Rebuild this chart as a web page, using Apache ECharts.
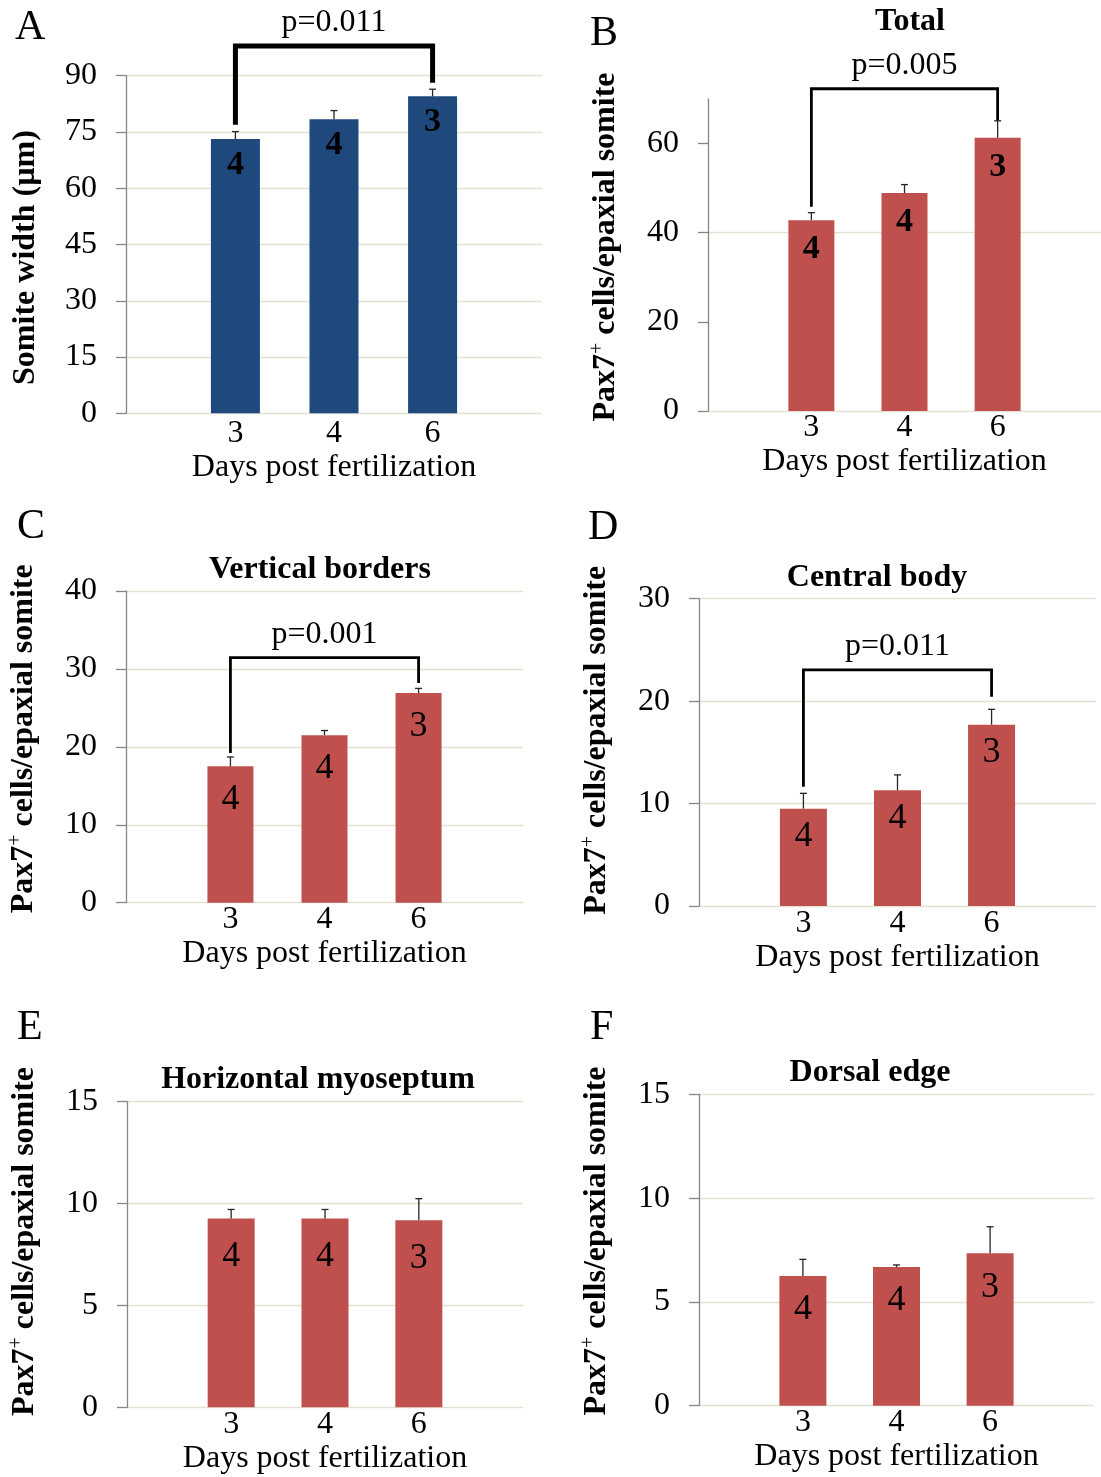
<!DOCTYPE html>
<html>
<head>
<meta charset="utf-8">
<script src="https://cdn.jsdelivr.net/npm/echarts@6/dist/echarts.min.js"></script>
<style>
  html, body { margin: 0; padding: 0; background: #ffffff; }
  #chart { width: 1101px; height: 1477px; }
</style>
</head>
<body>
<div id="chart"></div>
<script>
// Days post fertilization (x categories) and number of embryos per group
const days = ['3', '4', '6'];
const sampleSizes = [4, 4, 3];

// Somite width (µm), mean and upper SE
const somiteWidth = [73.1, 78.4, 84.5];
const somiteWidthSE = [2.0, 2.3, 1.9];

// Pax7+ cells per epaxial somite, by region
const totalCells = [42.8, 48.9, 61.3];
const totalCellsSE = [1.7, 1.9, 3.8];
const verticalBorderCells = [17.5, 21.5, 26.9];
const verticalBorderSE = [1.2, 0.6, 0.6];
const centralBodyCells = [9.5, 11.3, 17.7];
const centralBodySE = [1.5, 1.5, 1.5];
const myoseptumCells = [9.27, 9.27, 9.18];
const myoseptumSE = [0.44, 0.44, 1.06];
const dorsalEdgeCells = [6.25, 6.68, 7.34];
const dorsalEdgeSE = [0.8, 0.1, 1.28];

// Labelled y ticks per panel
const yTicksA = [0, 15, 30, 45, 60, 75, 90];
const yTicksB = [0, 20, 40, 60];
const yTicksC = [0, 10, 20, 30, 40];
const yTicksD = [0, 10, 20, 30];
const yTicksE = [0, 5, 10, 15];
const yTicksF = [0, 5, 10, 15];

// Day 3 vs day 6 comparisons
const pValueA = 'p=0.011';
const pValueB = 'p=0.005';
const pValueC = 'p=0.001';
const pValueD = 'p=0.011';

const SERIF = "'Liberation Serif', 'Times New Roman', serif";
const GRID_COLOR = '#e4e1d3';
const AXIS_COLOR = '#868686';
const BLUE = '#1f497d';
const RED = '#c0504d';

const PAX7_NAME = '{b|Pax7}{sup|+}{b| cells/epaxial somite}';

const panels = [
  { letter: 'A', letterAt: [15, 28], title: null,
    grid: { left: 126, top: 75.7, width: 416, height: 337.6 },
    yMax: 90, yStep: 15, yTicks: yTicksA, yName: 'Somite width (µm)', yNamePad: [0, 26, 0, 0],
    values: somiteWidth, se: somiteWidthSE, color: BLUE, barWidth: 49,
    nBold: true, nSize: 34, nDrop: 9, xLabelMargin: 4, xNameGap: 38,
    sig: { text: pValueA, level: 97.9, footL: 76.9, footR: 88.1, width: 5 } },
  { letter: 'B', letterAt: [590, 34], title: { text: 'Total', at: [910, 22] },
    grid: { left: 708, top: 99, width: 393, height: 312 },
    yMax: 70, yStep: 10, yTicks: yTicksB, yName: PAX7_NAME, yNamePad: [0, 0, 0, 16],
    values: totalCells, se: totalCellsSE, color: RED, barWidth: 46,
    nBold: true, nSize: 34, nDrop: 12, xLabelMargin: 1, xNameGap: 35,
    sig: { text: pValueB, level: 72.3, footL: 45.8, footR: 65.2, width: 2.8 } },
  { letter: 'C', letterAt: [17, 527], title: { text: 'Vertical borders', at: [320, 570] },
    grid: { left: 126, top: 591, width: 397, height: 311.7 },
    yMax: 40, yStep: 10, yTicks: yTicksC, yName: PAX7_NAME, yNamePad: [0, 0, 0, 16],
    values: verticalBorderCells, se: verticalBorderSE, color: RED, barWidth: 46,
    nBold: false, nSize: 36, nDrop: 15, xLabelMargin: 1, xNameGap: 35,
    sig: { text: pValueC, level: 31.45, footL: 19.2, footR: 28.2, width: 2.8 } },
  { letter: 'D', letterAt: [588, 528], title: { text: 'Central body', at: [877, 578] },
    grid: { left: 699, top: 598.7, width: 397, height: 307.3 },
    yMax: 30, yStep: 10, yTicks: yTicksD, yName: PAX7_NAME, yNamePad: [0, 0, 0, 24],
    values: centralBodyCells, se: centralBodySE, color: RED, barWidth: 47,
    nBold: false, nSize: 36, nDrop: 10, xLabelMargin: 2, xNameGap: 36,
    sig: { text: pValueD, level: 23.05, footL: 11.65, footR: 20.44, width: 2.8 } },
  { letter: 'E', letterAt: [17, 1028], title: { text: 'Horizontal myoseptum', at: [318, 1080] },
    grid: { left: 127, top: 1101.7, width: 396, height: 305.6 },
    yMax: 15, yStep: 5, yTicks: yTicksE, yName: PAX7_NAME, yNamePad: [0, 0, 0, 26],
    values: myoseptumCells, se: myoseptumSE, color: RED, barWidth: 47,
    nBold: false, nSize: 36, nDrop: 20, xLabelMargin: 1, xNameGap: 35,
    sig: null },
  { letter: 'F', letterAt: [590, 1028], title: { text: 'Dorsal edge', at: [870, 1073] },
    grid: { left: 699, top: 1094.3, width: 395, height: 311.4 },
    yMax: 15, yStep: 5, yTicks: yTicksF, yName: PAX7_NAME, yNamePad: [0, 0, 0, 18],
    values: dorsalEdgeCells, se: dorsalEdgeSE, color: RED, barWidth: 47,
    nBold: false, nSize: 36, nDrop: 16, xLabelMargin: 1, xNameGap: 35,
    sig: null }
];

const grids = [];
const xAxes = [];
const yAxes = [];
const series = [];
const graphics = [];

panels.forEach((p, i) => {
  grids.push(Object.assign({ containLabel: false }, p.grid));

  // bar slots sit at x = 1, 2, 3 with the plot padded on both sides
  xAxes.push({
    gridIndex: i, type: 'value', min: -0.11, max: 4.11,
    axisLine: { show: false }, axisTick: { show: false }, splitLine: { show: false },
    axisLabel: {
      customValues: [1, 2, 3], formatter: (v) => days[Math.round(v) - 1],
      margin: p.xLabelMargin, color: '#000', fontFamily: SERIF, fontSize: 32
    },
    name: 'Days post fertilization', nameLocation: 'middle', nameGap: p.xNameGap,
    nameTextStyle: { color: '#000', fontFamily: SERIF, fontSize: 32 }
  });

  // gridlines only where a tick is labelled (the B axis runs on to 70)
  const scaleTicks = [];
  for (let v = 0; v < p.yMax; v += p.yStep) scaleTicks.push(v);
  scaleTicks.push(p.yMax);
  const lineColors = scaleTicks.map((v) => (p.yTicks.indexOf(v) >= 0 ? GRID_COLOR : 'rgba(0,0,0,0)'));

  yAxes.push({
    gridIndex: i, type: 'value', min: 0, max: p.yMax, interval: p.yStep,
    axisLine: { show: true, onZero: false, lineStyle: { color: AXIS_COLOR, width: 1.3 } },
    axisTick: { show: true, inside: false, length: 10, customValues: p.yTicks,
      lineStyle: { color: AXIS_COLOR, width: 1.3 } },
    axisLabel: { customValues: p.yTicks, margin: 29, color: '#000', fontFamily: SERIF, fontSize: 32 },
    splitLine: { show: true, lineStyle: { color: lineColors, width: 1.3 } },
    name: p.yName, nameLocation: 'middle', nameRotate: 90, nameGap: 84,
    nameTextStyle: {
      color: '#000', fontFamily: SERIF, fontSize: 32, fontWeight: 'bold', padding: p.yNamePad,
      rich: {
        b: { fontFamily: SERIF, fontSize: 32, fontWeight: 'bold', color: '#000', lineHeight: 36 },
        sup: { fontFamily: SERIF, fontSize: 20, fontWeight: 'normal', color: '#000',
          lineHeight: 22, verticalAlign: 'top' }
      }
    }
  });

  series.push({
    type: 'bar', xAxisIndex: i, yAxisIndex: i, barWidth: p.barWidth,
    itemStyle: { color: p.color },
    data: p.values.map((v, k) => [k + 1, v]),
    label: {
      show: true, position: 'insideTop', distance: p.nDrop,
      formatter: (prm) => String(sampleSizes[prm.dataIndex]),
      color: '#000', fontFamily: SERIF, fontSize: p.nSize,
      fontWeight: p.nBold ? 'bold' : 'normal'
    },
    z: 2
  });

  // upper standard-error bars
  series.push({
    type: 'custom', xAxisIndex: i, yAxisIndex: i, z: 3,
    data: p.values.map((v, k) => [k + 1, v, v + p.se[k]]),
    encode: { x: 0, y: [1, 2] },
    renderItem: (params, api) => {
      const x = api.value(0);
      const lo = api.coord([x, api.value(1)]);
      const hi = api.coord([x, api.value(2)]);
      const st = { stroke: '#262626', lineWidth: 1.3 };
      return {
        type: 'group',
        children: [
          { type: 'line', shape: { x1: lo[0], y1: lo[1], x2: hi[0], y2: hi[1] }, style: st },
          { type: 'line', shape: { x1: hi[0] - 3.5, y1: hi[1], x2: hi[0] + 3.5, y2: hi[1] }, style: st }
        ]
      };
    }
  });

  // significance bracket between day 3 and day 6
  if (p.sig) {
    const s = p.sig;
    series.push({
      type: 'custom', xAxisIndex: i, yAxisIndex: i, z: 4, clip: false,
      data: [[1, 3, s.level, s.footL, s.footR]],
      encode: { x: [0, 1], y: [2, 3, 4] },
      renderItem: (params, api) => {
        const a = api.coord([api.value(0), api.value(3)]);
        const top = api.coord([api.value(0), api.value(2)]);
        const b = api.coord([api.value(1), api.value(4)]);
        const topY = top[1];
        return {
          type: 'group',
          children: [
            { type: 'polyline',
              shape: { points: [[a[0], a[1]], [a[0], topY], [b[0], topY], [b[0], b[1]]] },
              style: { stroke: '#000', lineWidth: s.width, fill: null, lineJoin: 'miter', lineCap: 'butt' } },
            { type: 'text', x: (a[0] + b[0]) / 2, y: topY - 23,
              style: { text: s.text, fill: '#000', fontFamily: SERIF, fontSize: 32,
                align: 'center', verticalAlign: 'middle' } }
          ]
        };
      }
    });
  }

  graphics.push({
    type: 'text', x: p.letterAt[0], y: p.letterAt[1],
    style: { text: p.letter, fill: '#000', fontFamily: SERIF, fontSize: 42, verticalAlign: 'middle' }
  });
  if (p.title) {
    graphics.push({
      type: 'text', x: p.title.at[0], y: p.title.at[1],
      style: { text: p.title.text, fill: '#000', fontFamily: SERIF, fontSize: 32, fontWeight: 'bold',
        align: 'center', verticalAlign: 'middle' }
    });
  }
});

const chart = echarts.init(document.getElementById('chart'), null, { renderer: 'canvas' });
chart.setOption({
  backgroundColor: '#ffffff',
  animation: false,
  grid: grids,
  xAxis: xAxes,
  yAxis: yAxes,
  series: series,
  graphic: graphics
});
</script>
</body>
</html>
